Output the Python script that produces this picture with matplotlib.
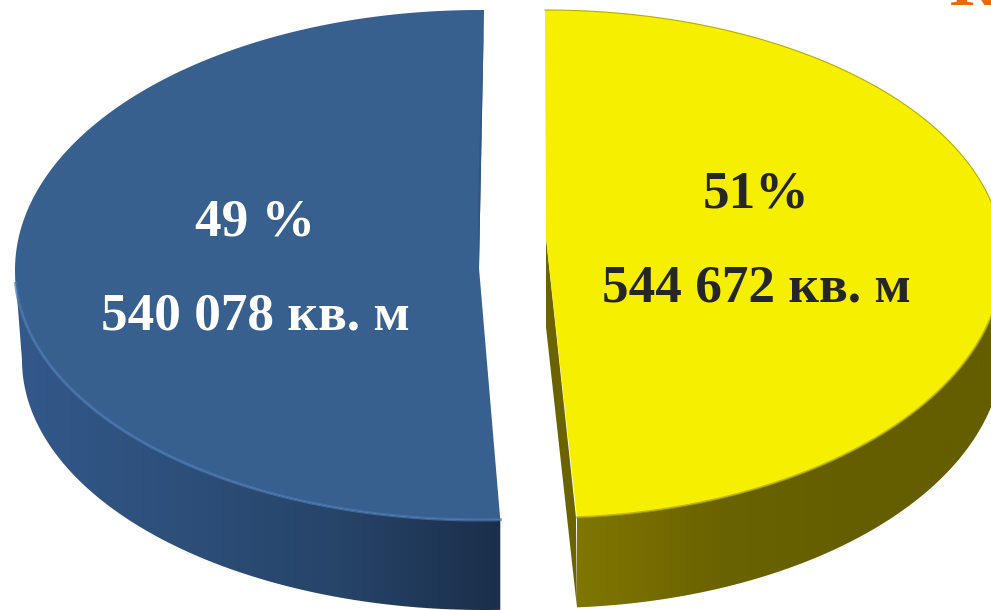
#!/usr/bin/env python
# -*- coding: utf-8 -*-
import numpy as np
from matplotlib import pyplot as plt
from matplotlib.colors import LinearSegmentedColormap
from matplotlib.patches import Polygon

plt.rcParams['font.family'] = ['Liberation Serif', 'DejaVu Serif']

# shares of the two slices, in percent
shares = [49, 51]
pct_labels = ["49 %", "51%"]
area_labels = ["540 078 кв. м", "544 672 кв. м"]

fig = plt.figure(figsize=(9.91, 6.10), dpi=100)
ax = fig.add_axes([0, 0, 1, 1])
ax.set_xlim(0, 991)
ax.set_ylim(610, 0)
ax.axis("off")

# the view squeezes the slices a bit, so the lower boundary sits off its true angle
view_shift = 7.6
boundary = 90 - shares[1] * 3.6 + view_shift


def rim(a0, a1, cx, cy, rx, ry_top, ry_bot):
    t = np.radians(np.linspace(a0, a1, 240))
    s = np.sin(t)
    ry = np.where(s > 0, ry_top, ry_bot)
    return cx + rx * np.cos(t), cy - ry * s


def wall(xs_top, ys_top, xs_bot, ys_bot, colors, z=1):
    pts = np.r_[np.c_[xs_top, ys_top], np.c_[xs_bot, ys_bot][::-1]]
    cmap = LinearSegmentedColormap.from_list("w", colors)
    im = ax.imshow(np.linspace(0, 1, 256)[None, :], cmap=cmap, aspect="auto",
                   extent=[pts[:, 0].min(), pts[:, 0].max(), 610, 0], zorder=z)
    clip = Polygon(pts, transform=ax.transData, fc="none", ec="none")
    ax.add_patch(clip)
    im.set_clip_path(clip)


# left slice
a0, a1 = 89.5, 360 + boundary - 1.5
x, y = rim(a0, a1, 480, 270, 465, 260, 250)
xb, yb = rim(180, a1, 484, 360, 462, 260, 250)
xt, yt = rim(180, a1, 480, 270, 465, 260, 250)
xb = np.minimum(xb, xt[-1])
wall(xt, yt, xb, yb, ["#33588a", "#2d4f7a", "#274469", "#1a2f4a"])
ax.fill(np.r_[479, x], np.r_[268, y], color="#37608f", lw=0, zorder=3)
ax.plot(xt[8:], yt[8:], color="#4a78b0", lw=2.2, alpha=0.7, zorder=4)
ax.fill([484, 479, 478], [10, 268, 200], color="#2f5583", lw=0, zorder=3)

# right slice
a0, a1 = 90, boundary
x, y = rim(a0, a1, 545, 258, 458, 248, 260)
xb, yb = rim(0, a1, 545, 348, 458, 248, 260)
xt, yt = rim(0, a1, 545, 258, 458, 248, 260)
wall(xt, yt, xb, yb, ["#7f7700", "#6a6300", "#645e00", "#645e00"])
ax.fill([546, 546, x[-1], x[-1] - 1], [238, 327, yb[-1], y[-1]], color="#6b6300", lw=0, zorder=2)
ax.fill(np.r_[546, x], np.r_[238, y], color="#f6ef00", lw=0, zorder=3)
ax.plot(x[:122], y[:122], color="#b5ae00", lw=0.8, zorder=4)
ax.plot(xt, yt, color="#a9a200", lw=1.5, alpha=0.7, zorder=4)

# labels
ax.text(255, 223, pct_labels[0], color="white", fontsize=38.3, fontweight="bold",
        ha="center", va="center", zorder=5)
ax.text(255, 317, area_labels[0], color="white", fontsize=38.3, fontweight="bold",
        ha="center", va="center", zorder=5)
ax.text(756, 194, pct_labels[1], color="#262626", fontsize=38.3, fontweight="bold",
        ha="center", va="center", zorder=5)
ax.text(756, 289, area_labels[1], color="#262626", fontsize=38.3, fontweight="bold",
        ha="center", va="center", zorder=5)

# cut-off letter of the slide title
ax.text(950, 5, "К", color="#e36c0a", fontsize=48, fontweight="bold",
        ha="left", va="baseline", zorder=5)

fig.savefig("out.png", dpi=100)
